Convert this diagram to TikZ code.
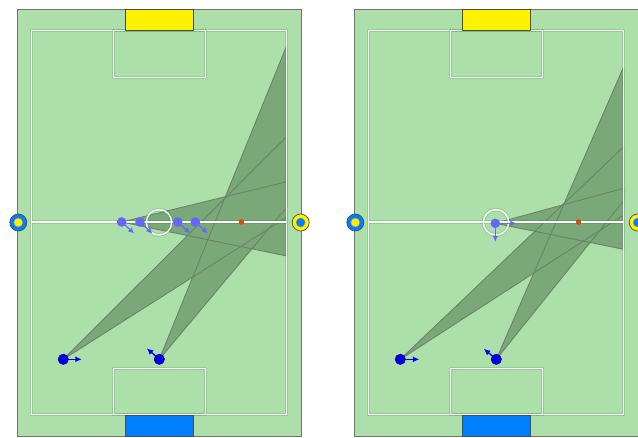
\documentclass[tikz,border=0pt]{standalone}
\usepackage{tikz}
\usetikzlibrary{calc, arrows.meta, positioning}

\definecolor{grass}{RGB}{173,223,171}
\definecolor{zone}{RGB}{122,168,120}
\definecolor{zoneline}{RGB}{106,132,104}
\definecolor{mate}{RGB}{102,102,255}
\definecolor{keeper}{RGB}{0,0,235}
\definecolor{goalblue}{RGB}{0,128,255}
\definecolor{ball}{RGB}{215,75,25}

\tikzset{
    field/.style={fill=grass, draw=black!55, line width=0.8pt},
    pitch/.style={draw=white, line width=1.4pt,
        preaction={draw=black!60!green, draw opacity=0.15, line width=3.4pt}},
    goalbox/.style={draw=black!70, line width=0.7pt},
    player/.style={circle, fill=keeper, draw=blue!50!black, line width=0.4pt, inner sep=0pt, minimum size=10.5pt},
    matedot/.style={circle, fill=mate, inner sep=0pt, minimum size=9.6pt},
    balldot/.style={circle, fill=ball, inner sep=0pt, minimum size=5.6pt},
    keeperarrow/.style={-{Latex[length=6.5pt,width=6pt]}, draw=keeper, fill=keeper, line width=1.3pt},
    matearrow/.style={-{Latex[length=6pt,width=5.5pt]}, draw=mate, fill=mate, line width=1.1pt}
}

\begin{document}
\begin{tikzpicture}[x=1pt, y=-1pt]
    \useasboundingbox (0,0) rectangle (638,437);

    % 1. Hai sân
    \foreach \dx in {0,337} {
        \begin{scope}[shift={(\dx,0)}]
            \draw[field] (17.3,9.3) rectangle (301,436);
        \end{scope}
    }

    % 2. Các điểm
    \coordinate (p1) at (63.3,359.3);
    \coordinate (p2) at (159.3,359.3);
    \coordinate (m1) at (121.7,222);
    \coordinate (m2) at (140,222);
    \coordinate (m3) at (177.7,222);
    \coordinate (m4) at (195.3,222);
    \coordinate (q1) at (400.3,359.3);
    \coordinate (q2) at (496.3,359.3);
    \coordinate (qm) at (495.3,223.3);
    \foreach \n/\y in {a/45.7, b/136.7, c/181.7, d/207.3, e/217.3, f/256} {
        \coordinate (L\n) at (286.7,\y);
    }
    \foreach \n/\y in {a/66.7, b/146.7, c/188.3, d/200.7, e/215, f/249.3} {
        \coordinate (R\n) at (623.7,\y);
    }

    % 3. Vùng chuyền
    \foreach \s/\ta/\tb in {p2/La/Ld, p1/Lb/Le, m1/Lc/Lf, q2/Ra/Rd, q1/Rb/Re, qm/Rc/Rf} {
        \fill[zone] (\s) -- (\ta) -- (\tb) -- cycle;
    }
    \foreach \s/\ta/\tb in {p2/La/Ld, p1/Lb/Le, m1/Lc/Lf, q2/Ra/Rd, q1/Rb/Re, qm/Rc/Rf} {
        \draw[zoneline, line width=0.9pt, line join=round] (\s) -- (\ta) -- (\tb) -- cycle;
    }

    % 4. Đường kẻ sân, khung thành
    \foreach \dx in {0,337} {
        \begin{scope}[shift={(\dx,0)}]
            \draw[pitch] (31.7,30.7) rectangle (286.7,414.3);
            \draw[pitch] (31.7,222) -- (286.7,222);
            \draw[pitch] (159,222.3) circle (12.7);
            \draw[pitch] (113.3,30.7) rectangle (205.3,77.3);
            \draw[pitch] (113.3,368.7) rectangle (205.3,414.3);
            \draw[goalbox, fill=yellow] (125.3,9.3) rectangle (193.3,30.7);
            \draw[goalbox, fill=goalblue] (125.3,415) rectangle (193.3,436);
            \draw[goalbox, fill=goalblue] (18.3,222.5) circle (8.5);
            \draw[black!45, line width=0.4pt, fill=yellow] (18.3,222.5) circle (4.5);
            \draw[goalbox, fill=yellow] (300.7,222.5) circle (8.5);
            \draw[black!45, line width=0.4pt, fill=goalblue] (300.7,222.5) circle (4.5);
        \end{scope}
    }

    % 5. Cầu thủ
    \node[balldot] (ball1) at (241.5,222) {};
    \node[balldot] (ball2) at (578.5,222) {};

    \foreach \m in {m1,m2,m3,m4} {
        \node[matedot] (\m dot) at (\m) {};
        \draw[matearrow] (\m) -- ++(12.5,11.5);
    }
    \node[matedot] (qmdot) at (qm) {};
    \draw[matearrow] (qm) -- ++(21,0);
    \draw[matearrow] (qm) -- ++(0,18.5);

    \node[player] (p1dot) at (p1) {};
    \node[player] (p2dot) at (p2) {};
    \node[player] (q1dot) at (q1) {};
    \node[player] (q2dot) at (q2) {};
    \draw[keeperarrow] (p1) -- ++(18.5,0);
    \draw[keeperarrow] (p2) -- ++(-12.5,-11);
    \draw[keeperarrow] (q1) -- ++(19,0);
    \draw[keeperarrow] (q2) -- ++(-12.5,-10.5);
\end{tikzpicture}
\end{document}
